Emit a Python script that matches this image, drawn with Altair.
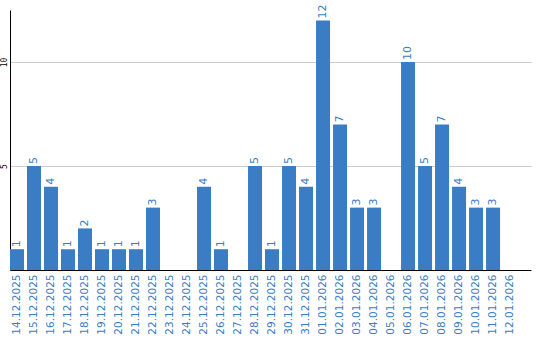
import altair as alt
import pandas as pd

dates = ["14.12.2025", "15.12.2025", "16.12.2025", "17.12.2025", "18.12.2025",
         "19.12.2025", "20.12.2025", "21.12.2025", "22.12.2025", "23.12.2025",
         "24.12.2025", "25.12.2025", "26.12.2025", "27.12.2025", "28.12.2025",
         "29.12.2025", "30.12.2025", "31.12.2025", "01.01.2026", "02.01.2026",
         "03.01.2026", "04.01.2026", "05.01.2026", "06.01.2026", "07.01.2026",
         "08.01.2026", "09.01.2026", "10.01.2026", "11.01.2026", "12.01.2026"]
values = [1, 5, 4, 1, 2, 1, 1, 1, 3, 0,
          0, 4, 1, 0, 5, 1, 5, 4, 12, 7,
          3, 3, 0, 10, 5, 7, 4, 3, 3, 0]

df = pd.DataFrame({"date": dates, "value": values})
BLUE = "#3b7dc4"
FONT = "DejaVu Sans"

x = alt.X("date:N", sort=dates, title=None,
          scale=alt.Scale(paddingInner=0.176, paddingOuter=0.41, align=0),
          axis=alt.Axis(labelAngle=270, labelColor=BLUE, labelFont=FONT, labelFontSize=10.5,
                        ticks=False, domainColor="#000000", labelPadding=4,
                        labelAlign="right", labelBaseline="middle", grid=False))
y = alt.Y("value:Q", title=None,
          scale=alt.Scale(domain=[0, 12.5], nice=False),
          axis=alt.Axis(values=[5, 10], labelAngle=270, labelFont="DejaVu Sans Mono",
                        labelFontSize=8, labelColor="#000000", ticks=False,
                        domainColor="#000000", gridColor="#cccccc", labelPadding=2,
                        labelAlign="center", labelBaseline="bottom"))

bars = alt.Chart(df).mark_bar(color=BLUE).encode(x=x, y=y)
text = alt.Chart(df).transform_filter("datum.value > 0").mark_text(
    angle=270, align="left", baseline="middle", dx=2, color=BLUE,
    font=FONT, fontSize=11).encode(x=alt.X("date:N", sort=dates), y="value:Q", text="value:Q")

chart = (bars + text).properties(
    width=521, height=260,
    background="#ffffff",
    autosize=alt.AutoSizeParams(type="none"),
    padding={"left": 10, "top": 10, "right": 9, "bottom": 70},
).configure_view(stroke=None, strokeWidth=0)

chart.save("out.html", embed_options={"renderer": "svg", "actions": False})
